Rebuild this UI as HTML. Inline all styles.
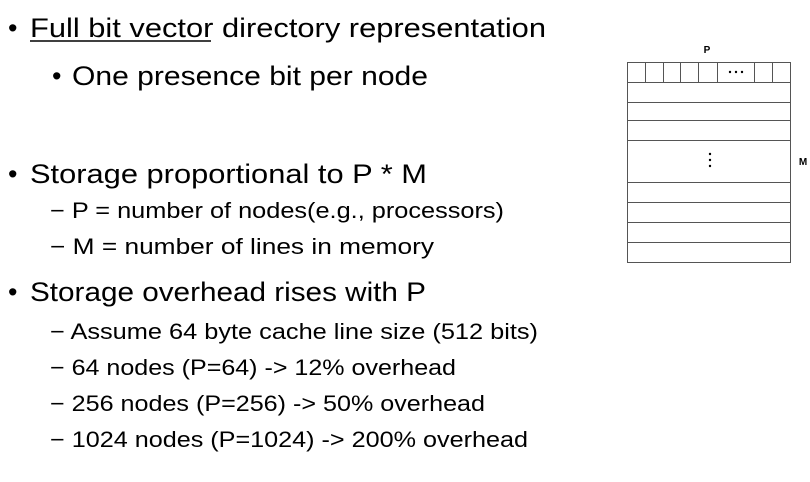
<!DOCTYPE html>
<html><head><meta charset="utf-8"><style>
html,body{margin:0;padding:0;background:#fff;}
svg{display:block;font-family:"Liberation Sans",sans-serif;fill:#000;}
</style></head><body>
<svg width="810" height="482" viewBox="0 0 810 482">
<g font-size="27">
<text x="8" y="37">•</text>
<text x="30" y="37" textLength="516" lengthAdjust="spacingAndGlyphs">Full bit vector directory representation</text>
<line x1="30" y1="41" x2="211" y2="41" stroke="#000" stroke-width="1.5"/>
<text x="52" y="85">•</text>
<text x="72" y="85" textLength="356" lengthAdjust="spacingAndGlyphs">One presence bit per node</text>
<text x="8" y="183">•</text>
<text x="30" y="183" textLength="397" lengthAdjust="spacingAndGlyphs">Storage proportional to P * M</text>
<text x="8" y="301">•</text>
<text x="30" y="301" textLength="396" lengthAdjust="spacingAndGlyphs">Storage overhead rises with P</text>
</g>
<g font-size="22">
<text x="50" y="218" textLength="454" lengthAdjust="spacingAndGlyphs">− P = number of nodes(e.g., processors)</text>
<text x="50" y="254" textLength="384" lengthAdjust="spacingAndGlyphs">− M = number of lines in memory</text>
<text x="50" y="339" textLength="488" lengthAdjust="spacingAndGlyphs">− Assume 64 byte cache line size (512 bits)</text>
<text x="50" y="375" textLength="406" lengthAdjust="spacingAndGlyphs">− 64 nodes (P=64) -&gt; 12% overhead</text>
<text x="50" y="411" textLength="435" lengthAdjust="spacingAndGlyphs">− 256 nodes (P=256) -&gt; 50% overhead</text>
<text x="50" y="447" textLength="478" lengthAdjust="spacingAndGlyphs">− 1024 nodes (P=1024) -&gt; 200% overhead</text>
</g>
<g stroke="#555" stroke-width="1" fill="none">
<rect x="627.5" y="62.5" width="163" height="200"/>
<g>
<line x1="627" y1="82.5" x2="790" y2="82.5"/>
<line x1="627" y1="102.5" x2="790" y2="102.5"/>
<line x1="627" y1="120.5" x2="790" y2="120.5"/>
<line x1="627" y1="140.5" x2="790" y2="140.5"/>
<line x1="627" y1="182.5" x2="790" y2="182.5"/>
<line x1="627" y1="202.5" x2="790" y2="202.5"/>
<line x1="627" y1="222.5" x2="790" y2="222.5"/>
<line x1="627" y1="242.5" x2="790" y2="242.5"/>
</g>
<g>
<line x1="645.5" y1="62" x2="645.5" y2="82"/>
<line x1="663.5" y1="62" x2="663.5" y2="82"/>
<line x1="680.5" y1="62" x2="680.5" y2="82"/>
<line x1="698.5" y1="62" x2="698.5" y2="82"/>
<line x1="717.5" y1="62" x2="717.5" y2="82"/>
<line x1="754.5" y1="62" x2="754.5" y2="82"/>
<line x1="772.5" y1="62" x2="772.5" y2="82"/>
</g>
</g>
<g fill="#000">
<circle cx="730" cy="72" r="1.2"/><circle cx="736" cy="72" r="1.2"/><circle cx="742" cy="72" r="1.2"/>
<circle cx="710" cy="154" r="1.2"/><circle cx="710" cy="160" r="1.2"/><circle cx="710" cy="166" r="1.2"/>
</g>
<text x="707" y="53" font-size="10" font-weight="bold" text-anchor="middle">P</text>
<text x="803" y="165" font-size="10" font-weight="bold" text-anchor="middle">M</text>
</svg>
</body></html>
